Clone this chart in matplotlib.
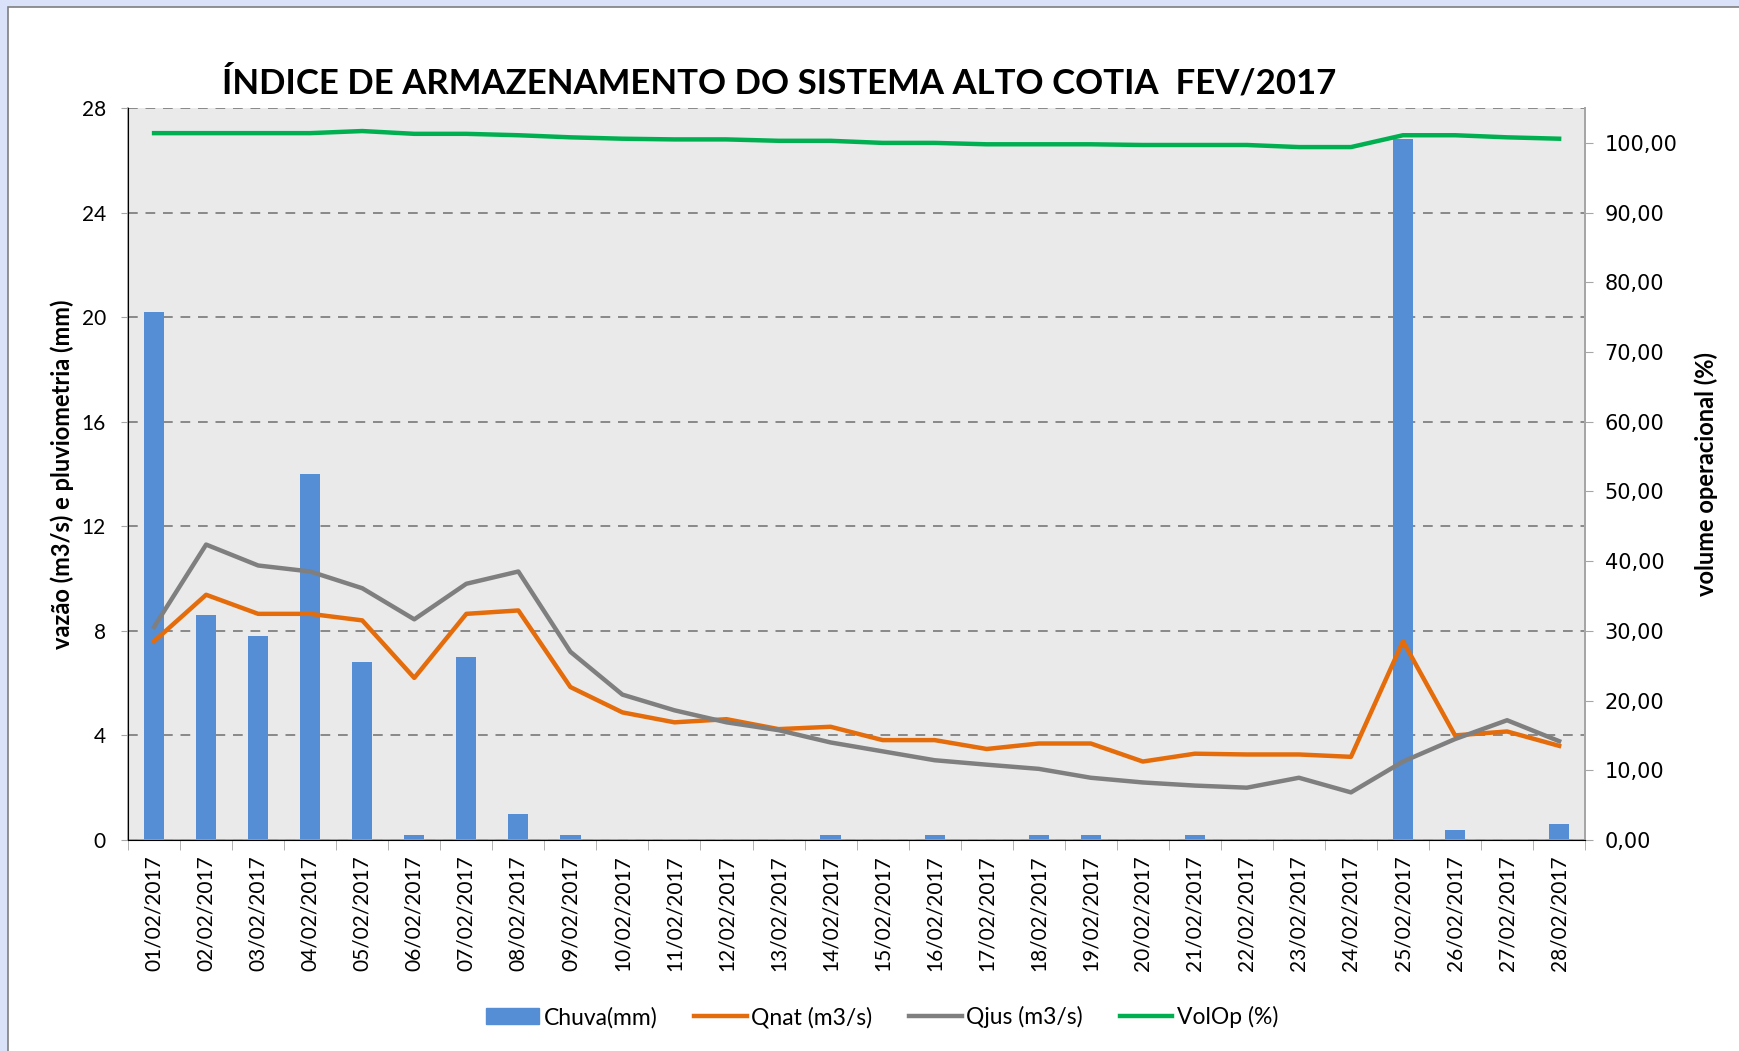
import matplotlib
matplotlib.use("Agg")
import matplotlib.pyplot as plt
from matplotlib.patches import Rectangle, Patch
from matplotlib.lines import Line2D
from matplotlib.ticker import FuncFormatter

plt.rcParams['font.family'] = ['Lato', 'DejaVu Sans']

# Dados - fev/2017
dias = ["%02d/02/2017" % d for d in range(1, 29)]
chuva = [20.2, 8.6, 7.8, 14.0, 6.8, 0.2, 7.0, 1.0, 0.2, 0, 0, 0, 0, 0.2,
         0, 0.2, 0, 0.2, 0.2, 0, 0.2, 0, 0, 0, 26.8, 0.4, 0, 0.6]
qnat = [7.6, 9.38, 8.65, 8.65, 8.4, 6.2, 8.65, 8.78, 5.85, 4.88, 4.5, 4.62,
        4.24, 4.33, 3.82, 3.82, 3.48, 3.69, 3.69, 3.0, 3.3, 3.27, 3.27, 3.18,
        7.6, 4.0, 4.15, 3.6]
qjus = [8.15, 11.3, 10.5, 10.27, 9.63, 8.44, 9.8, 10.27, 7.2, 5.56, 4.96, 4.5,
        4.2, 3.73, 3.39, 3.05, 2.88, 2.72, 2.38, 2.2, 2.08, 2.0, 2.38, 1.82,
        3.0, 3.86, 4.58, 3.78]
volop = [101.4, 101.4, 101.4, 101.4, 101.7, 101.3, 101.3, 101.1, 100.8, 100.6,
         100.5, 100.5, 100.3, 100.3, 100.0, 100.0, 99.8, 99.8, 99.8, 99.7,
         99.7, 99.7, 99.4, 99.4, 101.1, 101.1, 100.8, 100.6]

c_bar = "#558ED5"
c_qnat = "#E46C0A"
c_qjus = "#7F7F7F"
c_vol = "#00B050"
c_axis = "#A6A6A6"

fig = plt.figure(figsize=(17.4, 10.51), dpi=100)
fig.patch.set_facecolor("#D9E2F8")
fig.add_artist(Rectangle((8 / 1740, -0.01), 1.0, 1 - 7 / 1051 + 0.01,
                         transform=fig.transFigure, facecolor="white",
                         edgecolor="#7F7F7F", linewidth=1.2, zorder=-10))

ax = fig.add_axes([0.0736, 0.2008, 0.8374, 0.6964])
ax.set_facecolor("#EAEAEA")
x = list(range(len(dias)))

ax.bar(x, chuva, width=0.39, color=c_bar, zorder=2)
ax.plot(x, qnat, color=c_qnat, lw=3.2, zorder=3)
ax.plot(x, qjus, color=c_qjus, lw=3.2, zorder=3)

ax.set_xlim(-0.5, len(dias) - 0.5)
ax.set_ylim(0, 28)
ax.set_yticks(range(0, 29, 4))
ax.yaxis.grid(True, linestyle=(0, (5, 4)), color="#898989", lw=1.4)
ax.set_axisbelow(True)
ax.tick_params(axis="y", labelsize=15, length=5, color=c_axis, pad=11)

ax.set_xticks(x)
ax.set_xticklabels(dias, rotation=90, fontsize=15)
ax.set_xticks([i - 0.5 for i in range(len(dias) + 1)], minor=True)
ax.tick_params(axis="x", which="major", length=0, pad=11)
ax.tick_params(axis="x", which="minor", length=7, color=c_axis)

ax.spines["top"].set_visible(False)
for s in ["left", "bottom", "right"]:
    ax.spines[s].set_color(c_axis)
    ax.spines[s].set_linewidth(1.3)

ax.set_ylabel("vazão (m3/s) e pluviometria (mm)", fontsize=17,
              fontweight="bold")
ax.yaxis.set_label_coords(-0.037, 0.5)

ax2 = ax.twinx()
ax2.plot(x, volop, color=c_vol, lw=3.2, zorder=4)
ax2.set_ylim(0, 105)
ax2.set_yticks(range(0, 101, 10))
ax2.yaxis.set_major_formatter(FuncFormatter(lambda v, p: ("%.2f" % v).replace(".", ",")))
ax2.tick_params(axis="y", labelsize=15, length=6, color=c_axis, pad=8)
for lbl in ax2.get_yticklabels():
    lbl.set_family("DejaVu Sans")
ax2.spines["top"].set_visible(False)
ax2.spines["right"].set_color(c_axis)
ax2.spines["right"].set_linewidth(1.3)
ax2.set_ylabel("volume operacional (%)", fontsize=17, fontweight="bold",
               labelpad=12)

fig.text(0.448, 0.921, "ÍNDICE DE ARMAZENAMENTO DO SISTEMA ALTO COTIA  FEV/2017",
         ha="center", va="center", fontsize=25, fontweight="bold")

handles = [Patch(color=c_bar),
           Line2D([], [], color=c_qnat, lw=3.2),
           Line2D([], [], color=c_qjus, lw=3.2),
           Line2D([], [], color=c_vol, lw=3.2)]
labels = ["Chuva(mm)", "Qnat (m3/s)", "Qjus (m3/s)", "VolOp (%)"]
fig.legend(handles, labels, loc="center", bbox_to_anchor=(0.507, 0.032),
           ncol=4, frameon=False, fontsize=16.5, handlelength=2.3,
           handletextpad=0.2, columnspacing=1.6)

fig.savefig("out.png", dpi=100, facecolor=fig.get_facecolor())
